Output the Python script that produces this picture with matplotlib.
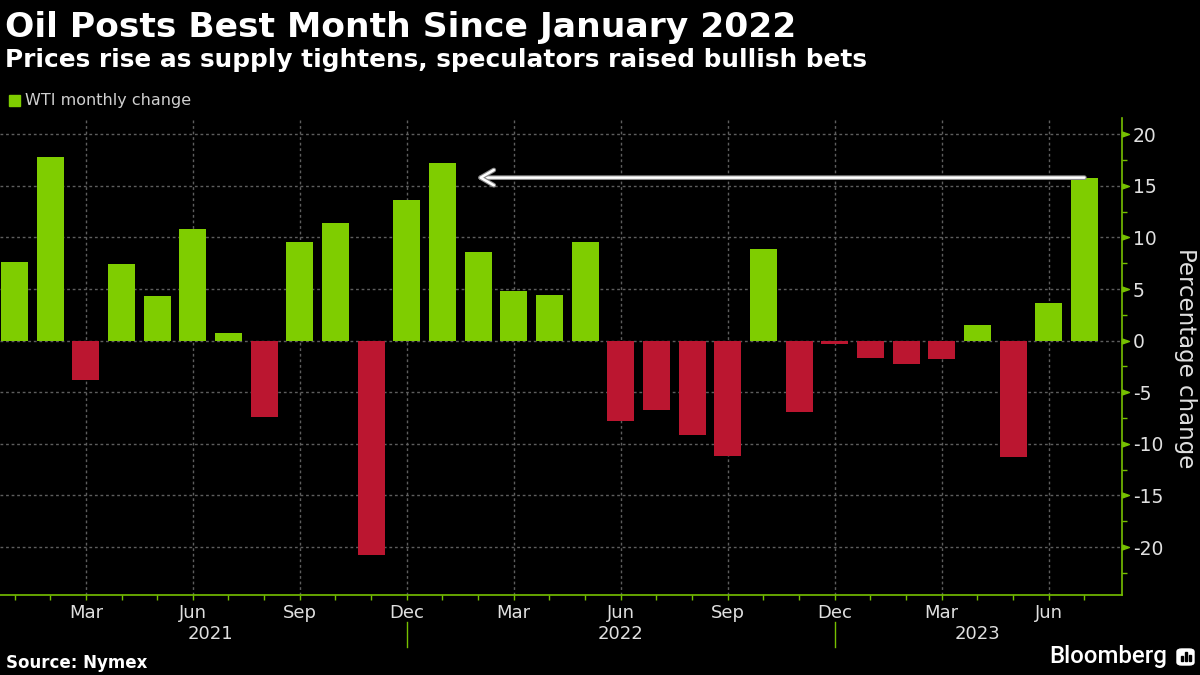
import matplotlib
matplotlib.use("Agg")
import matplotlib.pyplot as plt
import matplotlib.patheffects as pe
import matplotlib.transforms as mtransforms
from matplotlib.path import Path
from matplotlib.patches import Rectangle, FancyBboxPatch
import numpy as np
import pandas as pd

# data: WTI monthly % change, Jan 2021 .. Jul 2023
months = pd.period_range("2021-01", "2023-07", freq="M")
wti_change = [7.6, 17.8, -3.8, 7.4, 4.3, 10.8, 0.7, -7.4, 9.6, 11.4, -20.8, 13.6,
              17.2, 8.6, 4.8, 4.4, 9.6, -7.8, -6.7, -9.1, -11.2, 8.9, -6.9, -0.3,
              -1.7, -2.3, -1.8, 1.5, -11.3, 3.7, 15.8]
quarter_labels = ["Mar", "Jun", "Sep", "Dec"]
years = ["2021", "2022", "2023"]
y_ticks = [-20, -15, -10, -5, 0, 5, 10, 15, 20]

GREEN = "#7fcd00"
RED = "#bb1630"
AXIS = "#76c000"
GRID = "#5e5e5e"
TXT = "#e0e0e0"

plt.rcParams["font.family"] = "DejaVu Sans"

fig = plt.figure(figsize=(12, 6.75), dpi=100, facecolor="black")
ax = fig.add_axes([0, 0.1181, 0.9346, 0.7071], facecolor="black")

x = np.arange(len(months))
colors = [GREEN if v >= 0 else RED for v in wti_change]
ax.bar(x, wti_change, width=0.76, color=colors, zorder=2)

ax.set_xlim(-0.407, 31.04)
ax.set_ylim(-24.67, 21.58)

# x axis: tick every month, labels at quarter months
quarter_idx = [i for i, m in enumerate(months) if m.month in (3, 6, 9, 12)]
ax.set_xticks(quarter_idx)
ax.set_xticklabels([quarter_labels[months[i].month // 3 - 1] for i in quarter_idx])
ax.set_xticks(x, minor=True)
ax.tick_params(axis="x", which="both", direction="out", length=3.5, width=1,
               color=AXIS, labelcolor=TXT, labelsize=13, pad=3)

# y axis on the right
ax.yaxis.tick_right()
ax.set_yticks(y_ticks)
ax.set_yticklabels([str(t) for t in y_ticks])
ax.set_yticks(np.arange(-22.5, 21, 2.5), minor=True)
ax.tick_params(axis="y", which="major", length=0, pad=8, labelcolor=TXT, labelsize=13.5)
ax.tick_params(axis="y", which="minor", length=3.5, width=1, color=AXIS, direction="out")

tri = Path([(0, -0.35), (1, 0), (0, 0.35), (0, -0.35)],
           [Path.MOVETO, Path.LINETO, Path.LINETO, Path.CLOSEPOLY])
ax.plot(np.ones(len(y_ticks)), y_ticks, ls="none", marker=tri, ms=10, color=AXIS,
        transform=ax.get_yaxis_transform(), clip_on=False, zorder=5)

for s in ["left", "top"]:
    ax.spines[s].set_visible(False)
for s in ["right", "bottom"]:
    ax.spines[s].set_color(AXIS)
    ax.spines[s].set_linewidth(1.2)

ax.grid(axis="both", which="major", color=GRID, linestyle=(0, (2, 2)), linewidth=1)
ax.set_axisbelow(True)

# year labels and separators under the axis
bt = mtransforms.blended_transform_factory(ax.transData, fig.transFigure)
dec_idx = [i for i, m in enumerate(months) if m.month == 12]
bounds = [0] + dec_idx + [len(months)]
for yr, a, b in zip(years, bounds[:-1], bounds[1:]):
    ax.text((a + b) / 2, 1 - 634 / 675, yr, transform=bt, ha="center", va="center",
            color=TXT, fontsize=13)
for d in dec_idx:
    ax.plot([d, d], [1 - 622 / 675, 1 - 647 / 675], transform=bt, color=AXIS,
            lw=1, clip_on=False)

# arrow from latest month back to January 2022
last = len(wti_change) - 1
jan22 = [i for i, m in enumerate(months) if m.year == 2022 and m.month == 1][0]
ax.annotate("", xy=(jan22 + 1, wti_change[-1]), xytext=(last, wti_change[-1]),
            arrowprops=dict(arrowstyle="->, head_length=0.95, head_width=0.55",
                            color="white", lw=1.8, shrinkA=0, shrinkB=0,
                            path_effects=[pe.withStroke(linewidth=3.4, foreground="#8a8a8a")]),
            zorder=6)

# right axis title
fig.text(1185 / 1200, 1 - 358 / 675, "Percentage change", rotation=270,
         ha="center", va="center", color=TXT, fontsize=16.5)

# titles
fig.text(0.004, 1 - 37 / 675, "Oil Posts Best Month Since January 2022",
         color="white", fontsize=24.8, fontweight="bold", va="baseline")
fig.text(0.004, 1 - 67.5 / 675, "Prices rise as supply tightens, speculators raised bullish bets",
         color="white", fontsize=17.85, fontweight="bold", va="baseline")

# legend
fig.patches.append(Rectangle((9 / 1200, 1 - 106 / 675), 11 / 1200, 11 / 675,
                             transform=fig.transFigure, color=GREEN))
fig.text(25 / 1200, 1 - 100.5 / 675, "WTI monthly change", color="#d0d0d0",
         fontsize=11.5, va="center")

# footer
fig.text(6 / 1200, 1 - 668 / 675, "Source: Nymex", color="white", fontsize=12,
         fontweight="bold", va="baseline")
fig.text(1167 / 1200, 1 - 663 / 675, "Bloomberg", color="white", fontsize=17.3,
         fontweight="medium", family=["Roboto", "DejaVu Sans"], ha="right", va="baseline")
fig.patches.append(FancyBboxPatch((1177 / 1200, 1 - 665 / 675), 17 / 1200, 16 / 675,
                                  boxstyle="round,pad=0,rounding_size=0.004",
                                  transform=fig.transFigure, color="white"))
for bx, bh in [(1181, 5), (1185, 9), (1189, 6)]:
    fig.patches.append(Rectangle((bx / 1200, 1 - 661 / 675), 2 / 1200, bh / 675,
                                 transform=fig.transFigure, color="black"))

fig.savefig("out.png", dpi=100, facecolor="black")
